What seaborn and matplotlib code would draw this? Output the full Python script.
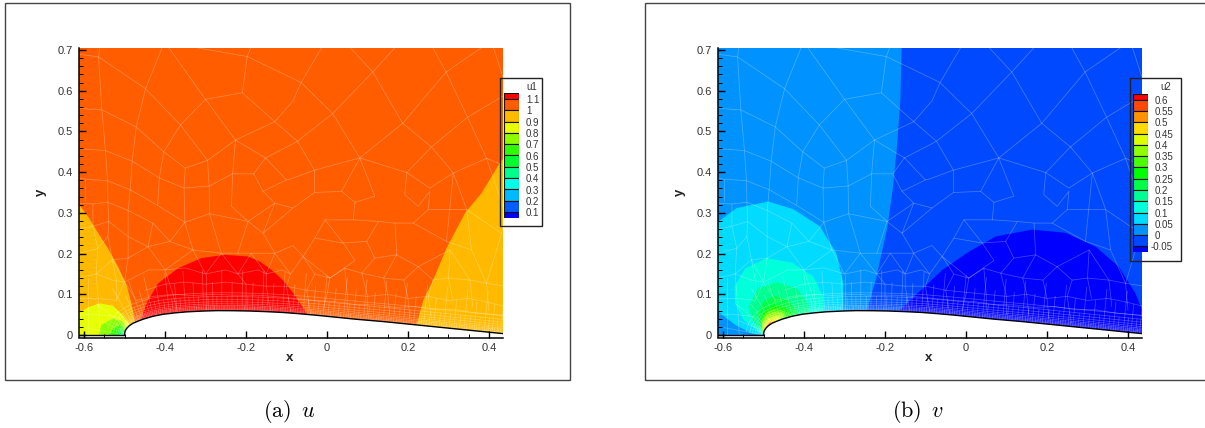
import numpy as np
import pandas as pd
import matplotlib
matplotlib.use("Agg")
import matplotlib.pyplot as plt
from matplotlib.patches import Rectangle
from matplotlib.ticker import MultipleLocator
import seaborn as sns

# legend levels and colours, top band first
u_levels = ["1.1", "1", "0.9", "0.8", "0.7", "0.6", "0.5", "0.4", "0.3", "0.2", "0.1"]
u_values = [1.1, 1.0, 0.9, 0.8, 0.7, 0.6, 0.5, 0.4, 0.3, 0.2, 0.1]
u_colors = ["#FF0000", "#FF5D00", "#FFBA00", "#E8FF00", "#8BFF00", "#2EFF00",
            "#00FF2E", "#00FF8B", "#00FFE8", "#00BAFF", "#005DFF", "#0000FF"]
v_levels = ["0.6", "0.55", "0.5", "0.45", "0.4", "0.35", "0.3", "0.25", "0.2", "0.15",
            "0.1", "0.05", "0", "-0.05"]
v_values = [0.6, 0.55, 0.5, 0.45, 0.4, 0.35, 0.3, 0.25, 0.2, 0.15, 0.1, 0.05, 0.0, -0.05]
v_colors = ["#FF0000", "#FF4900", "#FF9200", "#FFDB00", "#DBFF00", "#92FF00", "#49FF00", "#00FF00",
            "#00FF49", "#00FF92", "#00FFDB", "#00DBFF", "#0092FF", "#0049FF", "#0000FF"]

x_ticks = [-0.6, -0.4, -0.2, 0, 0.2, 0.4]
x_labels = ["-0.6", "-0.4", "-0.2", "0", "0.2", "0.4"]
y_ticks = [0, 0.1, 0.2, 0.3, 0.4, 0.5, 0.6, 0.7]
y_labels = ["0", "0.1", "0.2", "0.3", "0.4", "0.5", "0.6", "0.7"]

# upper surface of the airfoil
foil_x = [-0.5, -0.4995, -0.498, -0.494, -0.488, -0.479, -0.467, -0.454, -0.43, -0.405, -0.375, -0.346, -0.31,
          -0.272, -0.23, -0.19, -0.15, -0.109, -0.07, -0.03, 0.02, 0.07, 0.14, 0.22, 0.33, 0.44]
foil_y = [0.0, 0.005, 0.011, 0.017, 0.023, 0.029, 0.034, 0.039, 0.046, 0.051, 0.0545, 0.057, 0.0588,
          0.06, 0.0598, 0.059, 0.0575, 0.0555, 0.0525, 0.049, 0.044, 0.039, 0.033, 0.025, 0.014, 0.003]

# contour bands of u
u_bg = [(-0.62, 0), (0.44, 0), (0.44, 0.71), (-0.62, 0.71)]
u_amber_l = [(-0.62, 0.33), (-0.615, 0.324), (-0.59, 0.291), (-0.565, 0.25), (-0.541, 0.213), (-0.516, 0.168),
             (-0.495, 0.123), (-0.483, 0.078), (-0.475, 0.037), (-0.47, 0.02), (-0.5, 0), (-0.62, 0)]
u_amber_r = [(0.22, 0.02), (0.238, 0.086), (0.262, 0.135), (0.295, 0.213), (0.341, 0.3), (0.382, 0.349),
             (0.427, 0.423), (0.44, 0.44), (0.44, 0), (0.22, 0)]
u_yellow = [(-0.62, 0.049), (-0.59, 0.068), (-0.561, 0.078), (-0.53, 0.072), (-0.508, 0.053),
            (-0.49, 0.03), (-0.485, 0.015), (-0.5, 0), (-0.62, 0)]
u_lime = [(-0.564, 0), (-0.557, 0.025), (-0.528, 0.041), (-0.504, 0.033), (-0.495, 0.016), (-0.5, 0)]
u_green = [(-0.537, 0), (-0.528, 0.016), (-0.512, 0.025), (-0.5, 0.014), (-0.5, 0)]
u_green2 = [(-0.52, 0), (-0.512, 0.012), (-0.503, 0.012), (-0.5, 0)]
u_teal = [(-0.512, 0), (-0.505, 0.008), (-0.5, 0.006), (-0.5, 0)]
u_red = [(-0.462, 0.03), (-0.446, 0.078), (-0.417, 0.127), (-0.368, 0.164), (-0.31, 0.189), (-0.253, 0.197),
         (-0.195, 0.193), (-0.165, 0.18), (-0.137, 0.16), (-0.109, 0.135), (-0.085, 0.105), (-0.047, 0.05),
         (-0.2, 0.02)]

# contour bands of v
v_bg = [(-0.62, 0), (0.44, 0), (0.44, 0.71), (-0.62, 0.71)]
v_right = [(-0.159, 0.71), (-0.162, 0.579), (-0.171, 0.456), (-0.181, 0.357), (-0.194, 0.266), (-0.221, 0.143),
           (-0.245, 0.059), (-0.25, 0.02), (0.44, 0), (0.44, 0.71)]
v_dark = [(-0.164, 0.06), (-0.115, 0.107), (-0.058, 0.16), (0.008, 0.205), (0.073, 0.242), (0.163, 0.259),
          (0.246, 0.251), (0.32, 0.217), (0.377, 0.168), (0.418, 0.103), (0.44, 0.05), (0.44, 0), (-0.164, 0.02)]
v_sky = [(-0.62, 0.27), (-0.611, 0.279), (-0.566, 0.312), (-0.488, 0.328), (-0.426, 0.309), (-0.361, 0.267),
         (-0.32, 0.201), (-0.303, 0.127), (-0.303, 0.03), (-0.5, 0), (-0.529, 0.004), (-0.57, 0.025),
         (-0.611, 0.057), (-0.62, 0.06)]
v_teal = [(-0.572, 0.119), (-0.545, 0.164), (-0.492, 0.189), (-0.43, 0.178), (-0.377, 0.144), (-0.353, 0.094),
          (-0.349, 0.03), (-0.5, 0), (-0.549, 0.037), (-0.57, 0.078)]
v_spring = [(-0.537, 0.07), (-0.513, 0.115), (-0.467, 0.13), (-0.418, 0.115), (-0.39, 0.078), (-0.381, 0.03),
            (-0.5, 0), (-0.529, 0.041)]
v_green = [(-0.515, 0.053), (-0.5, 0.082), (-0.472, 0.096), (-0.439, 0.086), (-0.418, 0.06), (-0.41, 0.03), (-0.5, 0)]
v_green2 = [(-0.508, 0.041), (-0.496, 0.062), (-0.472, 0.074), (-0.447, 0.068), (-0.431, 0.055), (-0.43, 0.03), (-0.5, 0)]
v_lime = [(-0.506, 0.033), (-0.493, 0.056), (-0.472, 0.065), (-0.45, 0.06), (-0.44, 0.03), (-0.5, 0)]
v_lime2 = [(-0.504, 0.029), (-0.49, 0.052), (-0.472, 0.057), (-0.451, 0.055), (-0.45, 0.03), (-0.5, 0)]
v_yellow = [(-0.502, 0.02), (-0.488, 0.041), (-0.472, 0.047), (-0.459, 0.049), (-0.46, 0.03), (-0.5, 0)]
v_amber = [(-0.501, 0.014), (-0.49, 0.033), (-0.476, 0.041), (-0.47, 0.03), (-0.5, 0)]
v_orange = [(-0.5, 0.008), (-0.49, 0.025), (-0.482, 0.033), (-0.48, 0.02), (-0.5, 0)]

# outer cell edges, traced by hand
mesh_lines = [
    [(-0.615, 0.69), (-0.564, 0.683), (-0.448, 0.605), (-0.362, 0.516), (-0.295, 0.429), (-0.291, 0.366)],
    [(-0.407, 0.706), (-0.448, 0.605), (-0.471, 0.511), (-0.481, 0.427), (-0.486, 0.357), (-0.491, 0.306), (-0.491, 0.242), (-0.491, 0.189)],
    [(-0.391, 0.706), (-0.3, 0.579), (-0.362, 0.516), (-0.403, 0.45), (-0.35, 0.41), (-0.295, 0.429), (-0.226, 0.479), (-0.3, 0.579)],
    [(-0.3, 0.579), (-0.209, 0.595), (-0.197, 0.684), (-0.188, 0.706)],
    [(-0.323, 0.706), (-0.197, 0.684), (-0.084, 0.63), (-0.064, 0.62), (-0.013, 0.706)],
    [(-0.209, 0.595), (-0.129, 0.524), (-0.084, 0.575), (-0.064, 0.62), (0.014, 0.544), (0.113, 0.646), (0.057, 0.706)],
    [(-0.226, 0.479), (-0.129, 0.524), (-0.073, 0.476), (0.014, 0.544), (0.081, 0.435), (0.187, 0.52), (0.113, 0.646), (0.168, 0.706)],
    [(-0.615, 0.557), (-0.556, 0.553), (-0.471, 0.511), (-0.403, 0.45), (-0.414, 0.386), (-0.418, 0.32)],
    [(-0.561, 0.706), (-0.564, 0.683), (-0.556, 0.553), (-0.547, 0.453), (-0.542, 0.379), (-0.541, 0.326), (-0.539, 0.279), (-0.541, 0.242)],
    [(-0.615, 0.458), (-0.547, 0.453), (-0.481, 0.427), (-0.414, 0.386), (-0.353, 0.361), (-0.291, 0.366), (-0.233, 0.396), (-0.181, 0.396), (-0.152, 0.435), (-0.226, 0.479)],
    [(-0.152, 0.435), (-0.084, 0.47), (-0.073, 0.476), (-0.031, 0.405), (0.081, 0.435), (0.197, 0.399), (0.258, 0.462), (0.187, 0.52), (0.294, 0.646), (0.261, 0.706)],
    [(0.294, 0.646), (0.382, 0.706)],
    [(0.294, 0.646), (0.347, 0.535), (0.44, 0.59)],
    [(0.258, 0.462), (0.347, 0.535), (0.394, 0.434), (0.44, 0.415)],
    [(0.258, 0.462), (0.312, 0.398), (0.394, 0.434)],
    [(0.411, 0.706), (0.435, 0.632)],
    [(-0.615, 0.386), (-0.598, 0.383), (-0.542, 0.379), (-0.486, 0.357), (-0.421, 0.32), (-0.351, 0.277), (-0.29, 0.298), (-0.195, 0.279), (-0.129, 0.324), (-0.084, 0.312), (-0.031, 0.35), (-0.031, 0.405)],
    [(-0.35, 0.41), (-0.353, 0.361), (-0.351, 0.277), (-0.331, 0.209)],
    [(-0.291, 0.366), (-0.29, 0.298), (-0.261, 0.201)],
    [(-0.226, 0.479), (-0.233, 0.396), (-0.236, 0.316), (-0.195, 0.279), (-0.22, 0.201)],
    [(-0.181, 0.396), (-0.158, 0.353), (-0.1, 0.381), (-0.152, 0.435)],
    [(-0.158, 0.353), (-0.129, 0.324), (-0.158, 0.25), (-0.129, 0.201)],
    [(-0.195, 0.279), (-0.158, 0.25), (-0.084, 0.312)],
    [(-0.1, 0.381), (-0.091, 0.383), (-0.031, 0.405)],
    [(-0.031, 0.35), (0.036, 0.353), (0.081, 0.435)],
    [(0.036, 0.353), (0.069, 0.326), (0.118, 0.341), (0.081, 0.435)],
    [(0.197, 0.399), (0.254, 0.361), (0.312, 0.398), (0.345, 0.308), (0.357, 0.209)],
    [(0.197, 0.399), (0.192, 0.345), (0.225, 0.316), (0.254, 0.353), (0.25, 0.308), (0.213, 0.275), (0.168, 0.275), (0.127, 0.279), (0.065, 0.283), (-0.005, 0.283), (-0.03, 0.238), (-0.059, 0.193), (0.007, 0.14), (0.069, 0.183), (0.04, 0.226), (-0.03, 0.238)],
    [(0.069, 0.326), (0.065, 0.283)],
    [(-0.005, 0.283), (0.04, 0.226), (0.098, 0.23), (0.118, 0.189), (0.172, 0.197), (0.225, 0.168), (0.262, 0.135)],
    [(0.168, 0.275), (0.172, 0.197)],
    [(0.127, 0.279), (0.098, 0.23)],
    [(0.213, 0.275), (0.295, 0.23), (0.357, 0.209), (0.394, 0.127), (0.353, 0.135), (0.304, 0.209), (0.225, 0.168)],
    [(0.25, 0.308), (0.345, 0.308), (0.431, 0.25)],
    [(0.394, 0.434), (0.44, 0.3), (0.431, 0.25), (0.394, 0.127)],
    [(0.312, 0.398), (0.295, 0.23)],
    [(-0.615, 0.324), (-0.578, 0.322), (-0.541, 0.326), (-0.491, 0.306), (-0.43, 0.275), (-0.388, 0.23), (-0.351, 0.277)],
    [(-0.615, 0.26), (-0.578, 0.267), (-0.539, 0.279), (-0.491, 0.242), (-0.442, 0.217), (-0.388, 0.23), (-0.331, 0.209), (-0.261, 0.201), (-0.187, 0.201), (-0.129, 0.201), (-0.084, 0.22), (-0.059, 0.193)],
    [(-0.615, 0.2), (-0.566, 0.213), (-0.541, 0.242), (-0.53, 0.185), (-0.491, 0.189), (-0.442, 0.217), (-0.43, 0.275)],
    [(-0.615, 0.14), (-0.57, 0.15), (-0.53, 0.185), (-0.5, 0.13), (-0.491, 0.189)],
    [(-0.578, 0.322), (-0.578, 0.267), (-0.566, 0.213), (-0.57, 0.15), (-0.565, 0.09), (-0.56, 0.0)],
    [(-0.615, 0.09), (-0.565, 0.09), (-0.52, 0.085), (-0.5, 0.13)],
    [(-0.598, 0.383), (-0.598, 0.33)],
    [(-0.615, 0.05), (-0.565, 0.05), (-0.52, 0.045)],
    [(-0.59, 0.14), (-0.59, 0.0)],
    [(-0.442, 0.217), (-0.4, 0.16), (-0.331, 0.209), (-0.3, 0.15), (-0.261, 0.201), (-0.22, 0.15), (-0.187, 0.201), (-0.15, 0.15), (-0.129, 0.201), (-0.09, 0.15), (-0.059, 0.193), (-0.03, 0.15), (0.007, 0.14)],
    [(0.007, 0.14), (0.044, 0.164), (0.086, 0.152), (0.118, 0.189)],
    [(0.086, 0.152), (0.14, 0.14), (0.172, 0.197)],
    [(0.14, 0.14), (0.19, 0.135), (0.225, 0.168)],
    [(0.262, 0.135), (0.3, 0.14), (0.353, 0.135)],
    [(0.394, 0.127), (0.44, 0.12)],
    [(0.304, 0.209), (0.3, 0.14), (0.31, 0.09)],
    [(0.353, 0.135), (0.36, 0.07)],
    [(0.394, 0.127), (0.4, 0.06)],
    [(-0.45, 0.11), (-0.4, 0.125), (-0.35, 0.13), (-0.3, 0.125), (-0.25, 0.13), (-0.2, 0.125), (-0.15, 0.12), (-0.1, 0.12), (-0.05, 0.11),
     (0.0, 0.105), (0.05, 0.1), (0.1, 0.095), (0.15, 0.1), (0.2, 0.09), (0.25, 0.095), (0.3, 0.085), (0.35, 0.09), (0.4, 0.08), (0.44, 0.07)],
    [(-0.47, 0.085), (-0.43, 0.095), (-0.38, 0.1), (-0.33, 0.097), (-0.28, 0.1), (-0.23, 0.098), (-0.18, 0.098), (-0.13, 0.095), (-0.08, 0.09),
     (-0.03, 0.085), (0.02, 0.082), (0.07, 0.075), (0.12, 0.074), (0.17, 0.068), (0.22, 0.07), (0.27, 0.062), (0.32, 0.062), (0.37, 0.054), (0.44, 0.048)],
    [(-0.44, 0.16), (-0.4, 0.16), (-0.35, 0.165), (-0.3, 0.15), (-0.25, 0.16), (-0.22, 0.15), (-0.17, 0.16), (-0.15, 0.15), (-0.11, 0.16), (-0.09, 0.15)],
    [(0.007, 0.14), (0.0, 0.1), (-0.01, 0.06)],
    [(0.044, 0.164), (0.05, 0.1), (0.05, 0.06)],
    [(0.086, 0.152), (0.1, 0.095), (0.1, 0.05)],
    [(0.14, 0.14), (0.15, 0.1), (0.155, 0.05)],
    [(0.19, 0.135), (0.2, 0.09), (0.205, 0.04)],
    [(0.262, 0.135), (0.25, 0.095), (0.26, 0.03)],
    [(-0.4, 0.16), (-0.38, 0.1), (-0.37, 0.06)],
    [(-0.3, 0.15), (-0.3, 0.125), (-0.3, 0.06)],
    [(-0.22, 0.15), (-0.2, 0.125), (-0.2, 0.06)],
    [(-0.15, 0.15), (-0.15, 0.12), (-0.14, 0.06)],
    [(-0.09, 0.15), (-0.1, 0.12), (-0.09, 0.06)],
    [(-0.03, 0.15), (-0.05, 0.11), (-0.04, 0.05)],
    [(-0.53, 0.185), (-0.52, 0.135), (-0.52, 0.085)],
    [(-0.57, 0.15), (-0.53, 0.135), (-0.5, 0.13), (-0.47, 0.085)],
    [(-0.5, 0.13), (-0.44, 0.16)],
]

# layers above the surface and the stations that cross them, estimated
layer_heights = [0.002, 0.004, 0.0065, 0.0095, 0.013, 0.017, 0.022, 0.028, 0.035, 0.044]
coarse_stations = [0.0, 0.018, 0.035, 0.06, 0.09, 0.13, 0.17, 0.215, 0.26, 0.31, 0.36, 0.41, 0.46, 0.51, 0.56,
                   0.61, 0.66, 0.71, 0.76, 0.81, 0.86, 0.91, 0.95]
coarse_top = 0.1
mid_top = 0.07
fine_top = 0.035
finest_top = 0.013


def surface():
    # resample the surface by arc length, keep the normal at each point
    fx = np.array(foil_x)
    fy = np.array(foil_y)
    arc = np.r_[0, np.cumsum(np.hypot(np.diff(fx), np.diff(fy)))]
    s = np.linspace(0, arc[-1], 500)
    sx = np.interp(s, arc, fx)
    sy = np.interp(s, arc, fy)
    dx = np.gradient(sx, s)
    dy = np.gradient(sy, s)
    n = np.ones(15) / 15
    dx = np.convolve(np.pad(dx, 7, mode="edge"), n, mode="valid")
    dy = np.convolve(np.pad(dy, 7, mode="edge"), n, mode="valid")
    return s, sx, sy, -dy, dx


def midpoints(a):
    return (a[1:] + a[:-1]) / 2


def mesh_table():
    rows = []
    edge = 0
    for line in mesh_lines:
        for px, py in line:
            rows.append((edge, px, py))
        edge += 1
    s, sx, sy, nx, ny = surface()
    for h in layer_heights:
        for px, py in zip(sx + h * nx, np.maximum(sy + h * ny, 0)):
            rows.append((edge, px, py))
        edge += 1
    coarse = np.array(coarse_stations)
    mid = midpoints(coarse)
    level2 = np.sort(np.r_[coarse, mid])
    fine = midpoints(level2)
    level3 = np.sort(np.r_[level2, fine])
    finest = midpoints(level3)
    for stations, top in [(coarse, coarse_top), (mid, mid_top), (fine, fine_top), (finest, finest_top)]:
        for st in stations:
            i = min(np.searchsorted(s, st), len(s) - 1)
            rows.append((edge, sx[i], sy[i]))
            rows.append((edge, sx[i] + top * nx[i], sy[i] + top * ny[i]))
            edge += 1
    return pd.DataFrame(rows, columns=["edge", "x", "y"])


def px_box(x0, y0, x1, y1):
    return [x0 / W, 1 - y1 / H, (x1 - x0) / W, (y1 - y0) / H]


W = 1205
H = 428
sns.set_theme(style="ticks")
plt.rcParams["font.family"] = ["Liberation Sans", "DejaVu Sans"]
plt.rcParams["mathtext.fontset"] = "cm"
fig = plt.figure(figsize=(W / 100, H / 100), dpi=100)
mesh = mesh_table()


def draw_panel(box, bands, frame):
    ax = fig.add_axes(px_box(*box))
    for poly, col in bands:
        xs, ys = zip(*poly)
        ax.fill(xs, ys, color=col, lw=0, zorder=1)
    sns.lineplot(data=mesh, x="x", y="y", units="edge", estimator=None, sort=False, color="white",
                 alpha=0.27, lw=0.55, legend=False, ax=ax, zorder=2)
    ax.fill(foil_x + [0.44, -0.5], foil_y + [-0.01, -0.01], color="white", lw=0, zorder=3)
    sns.lineplot(x=foil_x, y=foil_y, sort=False, color="black", lw=1.0, ax=ax, zorder=4)
    sns.lineplot(x=[-0.62, -0.5], y=[0.0, 0.0], sort=False, color="black", lw=1.0, ax=ax, zorder=4)
    ax.set_xlim(-0.6136, 0.4346)
    ax.set_ylim(-0.006, 0.7057)
    ax.set_facecolor("none")
    sns.despine(ax=ax)
    for side in ["left", "bottom"]:
        ax.spines[side].set_linewidth(1.1)
        ax.spines[side].set_color("black")
        ax.spines[side].set_zorder(6)
    ax.set_xticks(x_ticks, x_labels)
    ax.set_yticks(y_ticks, y_labels)
    ax.xaxis.set_minor_locator(MultipleLocator(0.05))
    ax.yaxis.set_minor_locator(MultipleLocator(0.02))
    ax.xaxis.set_zorder(6)
    ax.yaxis.set_zorder(6)
    ax.tick_params(which="major", direction="in", length=5.2, width=1.0, color="black",
                   labelsize=8, labelcolor="#333333", pad=3.8)
    ax.tick_params(which="minor", direction="in", length=3.0, width=0.7, color="black")
    ax.set_xlabel("x", fontsize=9.5, fontweight="bold", color="#222222", va="center")
    ax.set_ylabel("y", fontsize=9.5, fontweight="bold", color="#222222", va="center")
    ax.xaxis.set_label_coords(0.498, -0.071)
    ax.yaxis.set_label_coords(-0.088, 0.5)
    x0, y0, x1, y1 = frame
    fig.add_artist(Rectangle((x0 / W, 1 - y1 / H), (x1 - x0) / W, (y1 - y0) / H, transform=fig.transFigure,
                             fill=False, ec="#444444", lw=1.0))
    return ax


def draw_legend(box, frame, title, title_pos, values, labels, colors, step, label_off):
    leg = fig.add_axes(px_box(*box), zorder=5)
    edges = [values[0] + step / 2] + list(values) + [values[-1] - step / 2]
    for hi, lo, col in zip(edges[:-1], edges[1:], colors):
        leg.bar(0.5, hi - lo, width=1, bottom=lo, color=col, edgecolor="#111111", linewidth=0.8)
    leg.set_xlim(0, 1)
    leg.set_ylim(edges[-1], edges[0])
    leg.axis("off")
    for v, lab in zip(values, labels):
        off = label_off - (3.0 if lab.startswith("-") else 0)
        leg.annotate(lab, xy=(1, v), xycoords=leg.get_yaxis_transform(), xytext=(off, -0.8),
                     textcoords="offset points", va="center", ha="left", fontsize=7, color="#333333")
    fig.text(title_pos[0] / W, 1 - title_pos[1] / H, title, fontsize=7, color="#333333", ha="center", va="center")
    x0, y0, x1, y1 = frame
    fig.add_artist(Rectangle((x0 / W, 1 - y1 / H), (x1 - x0) / W, (y1 - y0) / H, transform=fig.transFigure,
                             fill=False, ec="#222222", lw=1.0, zorder=6))


u_bands = [(u_bg, u_colors[1]), (u_amber_l, u_colors[2]), (u_amber_r, u_colors[2]), (u_yellow, u_colors[3]),
           (u_lime, u_colors[4]), (u_green, u_colors[5]), (u_green2, u_colors[6]), (u_teal, u_colors[7]),
           (u_red, u_colors[0])]
v_bands = [(v_bg, v_colors[12]), (v_right, v_colors[13]), (v_dark, v_colors[14]), (v_sky, v_colors[11]),
           (v_teal, v_colors[10]), (v_spring, v_colors[9]), (v_green, v_colors[8]), (v_green2, v_colors[7]),
           (v_lime, v_colors[6]), (v_lime2, v_colors[5]), (v_yellow, v_colors[4]), (v_amber, v_colors[3]),
           (v_orange, v_colors[1])]

draw_panel((78.5, 47.7, 503, 337.5), u_bands, (5, 2.5, 570, 379.5))
draw_panel((717.5, 47.7, 1142, 337.5), v_bands, (644.5, 2.5, 1210, 379.5))
draw_legend((504, 93.3, 518.7, 217.7), (500.3, 78.3, 541.7, 225.7), "u1", (531.7, 86.5),
            u_values, u_levels, u_colors, 0.1, 5.3)
draw_legend((1133.3, 94, 1148.3, 252), (1129.7, 78.3, 1180.7, 261.3), "u2", (1165.7, 87),
            v_values, v_levels, v_colors, 0.05, 4.8)

fig.text(263 / W, 1 - 417 / H, r"$\mathrm{(a)}\ \,u$", fontsize=16, color="black", ha="left", va="baseline")
fig.text(892 / W, 1 - 417 / H, r"$\mathrm{(b)}\ \,v$", fontsize=16, color="black", ha="left", va="baseline")

fig.savefig("out.png", dpi=100)
